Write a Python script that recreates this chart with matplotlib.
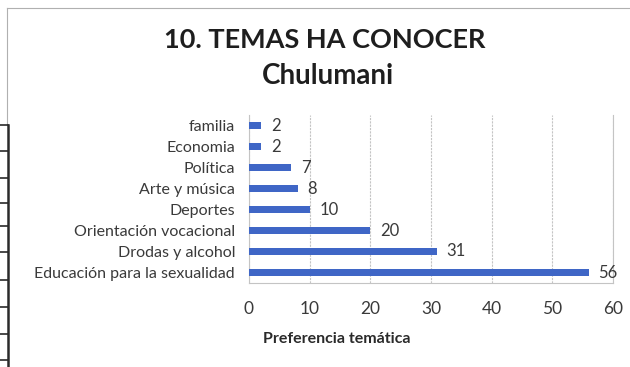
import matplotlib
matplotlib.use("Agg")
import matplotlib.pyplot as plt
from matplotlib.lines import Line2D

# Data
categories = [
    "familia",
    "Economia",
    "Política",
    "Arte y música",
    "Deportes",
    "Orientación vocacional",
    "Drodas y alcohol",
    "Educación para la sexualidad",
]
values = [2, 2, 7, 8, 10, 20, 31, 56]
x_ticks = [0, 10, 20, 30, 40, 50, 60]

title_line1 = "10. TEMAS HA CONOCER"
title_line2 = "Chulumani"
x_label = "Preferencia temática"

plt.rcParams["font.family"] = ["Lato", "DejaVu Sans"]

W, H = 630, 367
fig = plt.figure(figsize=(W / 100, H / 100), dpi=100)
fig.patch.set_facecolor("white")

def fx(px):
    return px / W

def fy(py):
    return 1 - py / H

ax = fig.add_axes([fx(249), fy(283), fx(613) - fx(249), fy(115) - fy(283)])

bar_color = "#3f66c6"
text_color = "#3a3a3a"

ypos = list(range(len(categories)))
ax.barh(ypos, values, height=0.38, color=bar_color, zorder=3)
ax.set_ylim(len(categories) - 0.5, -0.5)
ax.set_xlim(0, 60)

ax.set_yticks(ypos)
ax.set_yticklabels(categories, fontsize=11.5, color=text_color)
ax.tick_params(axis="y", length=0, pad=10)

ax.set_xticks(x_ticks)
ax.set_xticklabels([str(t) for t in x_ticks], fontsize=12.5, color=text_color)
ax.tick_params(axis="x", length=0, pad=13)

for y, v in zip(ypos, values):
    ax.text(v + 1.6, y, str(v), va="center", ha="left", fontsize=12, color=text_color, zorder=4)

ax.grid(axis="x", color="#c4c4c4", linewidth=0.8, linestyle=(0, (2, 1)), zorder=0)
ax.spines["top"].set_visible(False)
for side in ["left", "bottom", "right"]:
    ax.spines[side].set_color("#c4c4c4")
    ax.spines[side].set_linewidth(0.8)

# Titles and axis label
fig.text(fx(325), fy(40), title_line1, ha="center", va="center",
         fontsize=19.5, fontweight="bold", color="#1e1e1e")
fig.text(fx(328), fy(76), title_line2, ha="center", va="center",
         fontsize=20, fontweight="bold", color="#1e1e1e")
fig.text(fx(337), fy(339), x_label, ha="center", va="center",
         fontsize=11.5, fontweight="bold", color="#2a2a2a")

# Chart frame (top and left edges)
fig.add_artist(Line2D([fx(7), 1], [fy(8), fy(8)], color="#b0b0b0", linewidth=0.8))
fig.add_artist(Line2D([fx(7), fx(7)], [fy(8), fy(125)], color="#b0b0b0", linewidth=0.8))

# Edge of the neighbouring table at the left border
fig.add_artist(Line2D([fx(8), fx(8)], [fy(125), 0], color="#2a2a2a", linewidth=1.8))
for py in [125, 151, 178, 203, 226, 252, 280, 307, 334, 360]:
    fig.add_artist(Line2D([0, fx(8)], [fy(py), fy(py)], color="#2a2a2a", linewidth=1.2))

fig.savefig("out.png", dpi=100, facecolor="white")
